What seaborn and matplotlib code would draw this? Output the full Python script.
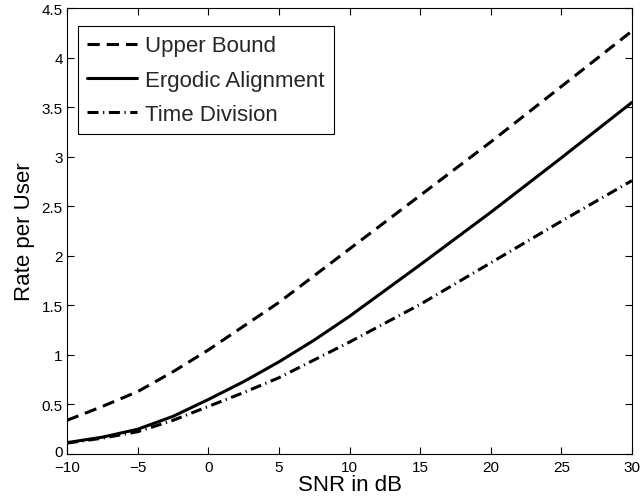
import pandas as pd
import matplotlib
matplotlib.use('Agg')
import matplotlib.pyplot as plt
import matplotlib.transforms as mtransforms
import seaborn as sns

# values
snr_db = [-10, -7.5, -5, -2.5, 0, 2.5, 5, 7.5, 10, 15, 20, 25, 30]
upper_bound = [0.34, 0.48, 0.63, 0.83, 1.05, 1.29, 1.53, 1.80, 2.07, 2.61, 3.15, 3.71, 4.27]
ergodic_alignment = [0.115, 0.17, 0.25, 0.38, 0.55, 0.73, 0.93, 1.15, 1.39, 1.91, 2.44, 2.99, 3.55]
time_division = [0.11, 0.16, 0.225, 0.34, 0.48, 0.62, 0.77, 0.95, 1.13, 1.51, 1.93, 2.35, 2.76]

x_ticks = [-10, -5, 0, 5, 10, 15, 20, 25, 30]
y_ticks = [0, 0.5, 1, 1.5, 2, 2.5, 3, 3.5, 4, 4.5]
y_tick_labels = ['0', '0.5', '1', '1.5', '2', '2.5', '3', '3.5', '4', '4.5']

sns.set_theme(style='ticks')
plt.rcParams['font.family'] = ['Liberation Sans', 'DejaVu Sans']
plt.rcParams['axes.edgecolor'] = 'black'

df = pd.DataFrame({
    'SNR': snr_db,
    'Upper Bound': upper_bound,
    'Ergodic Alignment': ergodic_alignment,
    'Time Division': time_division,
})

fig = plt.figure(figsize=(6.42, 5.02), dpi=100)
ax = fig.add_axes([0.1044, 0.0936, 0.880, 0.888])

styles = {
    'Upper Bound': (0, (4, 2.3)),
    'Ergodic Alignment': '-',
    'Time Division': (0, (3.6, 1.5, 0.4, 1.5)),
}
for name, ls in styles.items():
    sns.lineplot(data=df, x='SNR', y=name, ax=ax, color='black',
                 linewidth=2.2, linestyle=ls, label=name)

ax.set_xlim(-10, 30)
ax.set_ylim(0, 4.5)
ax.set_xticks(x_ticks)
ax.set_yticks(y_ticks)
ax.set_yticklabels(y_tick_labels)
ax.tick_params(direction='in', top=True, right=True, length=5, width=0.8,
               labelsize=11, colors='black')
ax.tick_params(axis='x', pad=4.5)
ax.tick_params(axis='y', pad=3)
for sp in ax.spines.values():
    sp.set_linewidth(0.8)
    sp.set_color('black')

# nudge the "0" label up a little so it clears the "-10" below it
zero_lab = ax.get_yticklabels()[0]
zero_lab.set_transform(zero_lab.get_transform() +
                       mtransforms.ScaledTranslation(0, 4 / 100, fig.dpi_scale_trans))

ax.set_xlabel('SNR in dB', fontsize=16, labelpad=0, color='black')
ax.set_ylabel('Rate per User', fontsize=16, labelpad=5, color='black')

leg = ax.legend(loc='upper left', bbox_to_anchor=(0.0195, 0.96),
                borderaxespad=0, fontsize=16, frameon=True, fancybox=False,
                edgecolor='black', framealpha=1, handlelength=2.25,
                handletextpad=0.36, labelspacing=0.6, borderpad=0.42)
leg.get_frame().set_linewidth(0.8)

fig.savefig('out.png', dpi=100)
